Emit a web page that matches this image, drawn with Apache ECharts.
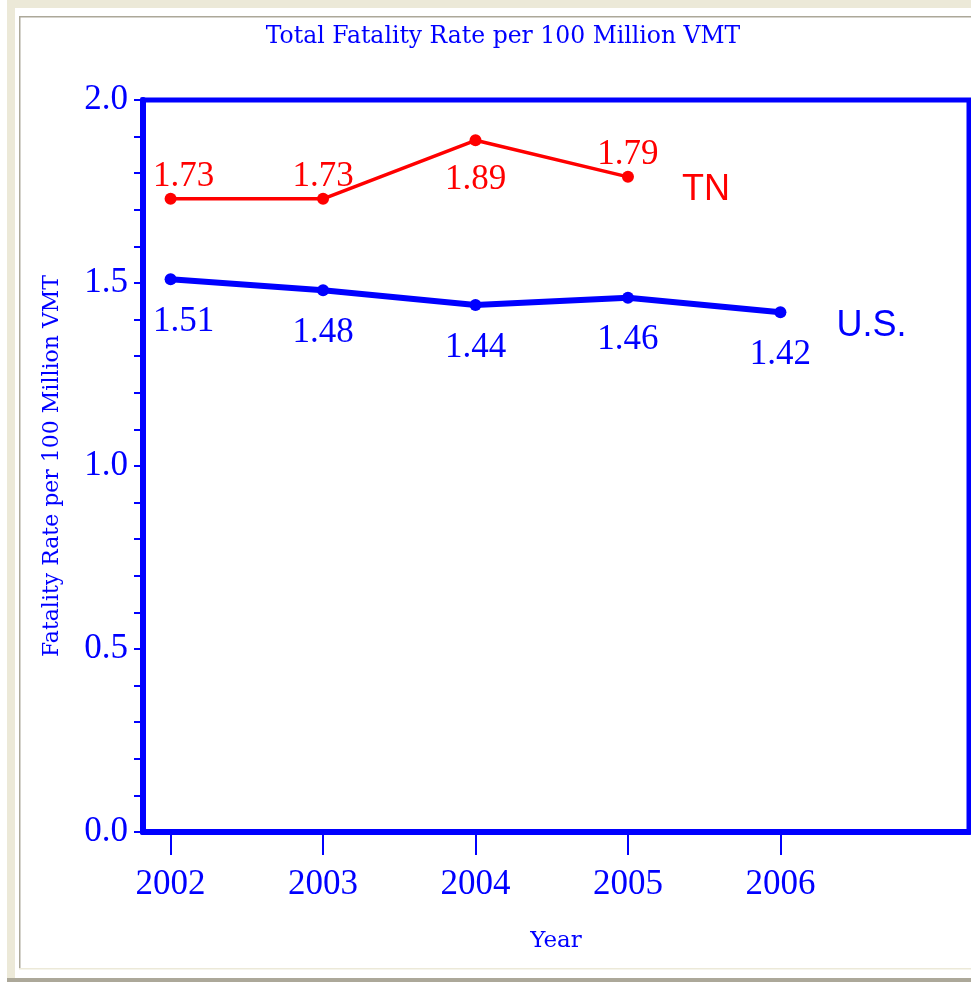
<!DOCTYPE html>
<html>
<head>
<meta charset="utf-8">
<script src="https://cdn.jsdelivr.net/npm/echarts@6/dist/echarts.min.js"></script>
<style>html,body{margin:0;padding:0;background:#fff;}#c{width:971px;height:982px;}</style>
</head>
<body>
<div id="c"></div>
<script>
const years = [2002, 2003, 2004, 2005, 2006];
const tnYears = [2002, 2003, 2004, 2005];
const tnRate = [1.73, 1.73, 1.89, 1.79];
const usRate = [1.51, 1.48, 1.44, 1.46, 1.42];
const yTickLabels = ['0.0', '0.5', '1.0', '1.5', '2.0'];
const seriesNames = ['TN', 'U.S.'];
const titleText = 'Total Fatality Rate per 100 Million VMT';
const yName = 'Fatality Rate per 100 Million VMT';
const xName = 'Year';

const BLUE = '#0000FF', RED = '#FF0000';
const SERIF = '"Liberation Serif", "Times New Roman", serif';
const SLAB = '"DejaVu Serif", serif';
const SANS = '"Liberation Sans", Arial, sans-serif';

// label placement styles (not data)
const tnPlace = ['top', 'top', 'bottom', 'top'];
function buildData(xs, vals, places, botDist) {
  return vals.map((v, i) => {
    const pos = places ? places[i] : 'bottom';
    return {
      value: [xs[i], v],
      label: {
        position: pos,
        distance: pos === 'top' ? 5 : botDist,
        offset: [i === 0 ? 13 : 0, pos === 'top' ? 6 : 0]
      }
    };
  });
}

const chart = echarts.init(document.getElementById('c'), null, {renderer: 'canvas'});
const option = {
  animation: false,
  backgroundColor: '#ffffff',
  graphic: [
    {type: 'rect', z: -10, shape: {x: 7, y: 0, width: 964, height: 8}, style: {fill: '#ECE9D8'}},
    {type: 'rect', z: -10, shape: {x: 7, y: 0, width: 8, height: 978}, style: {fill: '#ECE9D8'}},
    {type: 'rect', z: -10, shape: {x: 19, y: 16, width: 1.5, height: 952}, style: {fill: '#ACA899'}},
    {type: 'rect', z: -10, shape: {x: 19, y: 16, width: 952, height: 1.5}, style: {fill: '#ACA899'}},
    {type: 'rect', z: -10, shape: {x: 19, y: 968, width: 952, height: 1.5}, style: {fill: '#ECE9D8'}},
    {type: 'rect', z: -10, shape: {x: 7, y: 978, width: 964, height: 4}, style: {fill: '#ACA899'}}
  ],
  title: {
    text: titleText,
    left: 498,
    top: 20,
    textAlign: 'center',
    textStyle: {fontFamily: SLAB, fontSize: 23.5, fontWeight: 'normal', color: BLUE}
  },
  grid: {
    left: 143, right: 2, top: 100, bottom: 150,
    show: true, borderColor: BLUE, borderWidth: 5, backgroundColor: 'transparent'
  },
  xAxis: {
    type: 'value',
    min: 2001.819,
    max: 2007.237,
    name: xName,
    nameLocation: 'middle',
    nameGap: 98,
    nameTextStyle: {fontFamily: SLAB, fontSize: 23, color: BLUE},
    axisLine: {show: true, lineStyle: {color: BLUE, width: 6}},
    axisTick: {show: true, length: 23, lineStyle: {color: BLUE, width: 2}, customValues: years},
    axisLabel: {
      customValues: years,
      margin: 35,
      fontFamily: SERIF, fontSize: 35, color: BLUE,
      formatter: v => String(Math.round(v))
    },
    splitLine: {show: false}
  },
  yAxis: {
    type: 'value',
    min: 0, max: 2, interval: 0.5,
    name: yName,
    nameLocation: 'middle',
    nameGap: 80,
    nameTextStyle: {fontFamily: SLAB, fontSize: 22, color: BLUE},
    axisLine: {show: true, lineStyle: {color: BLUE, width: 6}},
    axisTick: {show: true, length: 9, lineStyle: {color: BLUE, width: 2}},
    minorTick: {show: true, splitNumber: 5, length: 9, lineStyle: {color: BLUE, width: 2}},
    axisLabel: {
      margin: 15,
      fontFamily: SERIF, fontSize: 35, color: BLUE,
      formatter: v => yTickLabels[Math.round(v * 2)]
    },
    splitLine: {show: false},
    minorSplitLine: {show: false}
  },
  series: [
    {
      name: seriesNames[0],
      type: 'line',
      data: buildData(tnYears, tnRate, tnPlace, 16),
      symbol: 'circle', symbolSize: 12,
      lineStyle: {color: RED, width: 3.5},
      itemStyle: {color: RED},
      label: {show: true, fontFamily: SERIF, fontSize: 35, color: RED,
        formatter: p => p.value[1].toFixed(2)},
      endLabel: {show: true, distance: 54, offset: [0, 13], fontFamily: SANS, fontSize: 36, color: RED,
        formatter: p => p.seriesName},
      z: 3
    },
    {
      name: seriesNames[1],
      type: 'line',
      data: buildData(years, usRate, null, 19),
      symbol: 'circle', symbolSize: 12,
      lineStyle: {color: BLUE, width: 6},
      itemStyle: {color: BLUE},
      label: {show: true, fontFamily: SERIF, fontSize: 35, color: BLUE,
        formatter: p => p.value[1].toFixed(2)},
      endLabel: {show: true, distance: 56, offset: [0, 14], fontFamily: SANS, fontSize: 36, color: BLUE,
        formatter: p => p.seriesName},
      z: 3
    }
  ]
};
chart.setOption(option);
</script>
</body>
</html>
